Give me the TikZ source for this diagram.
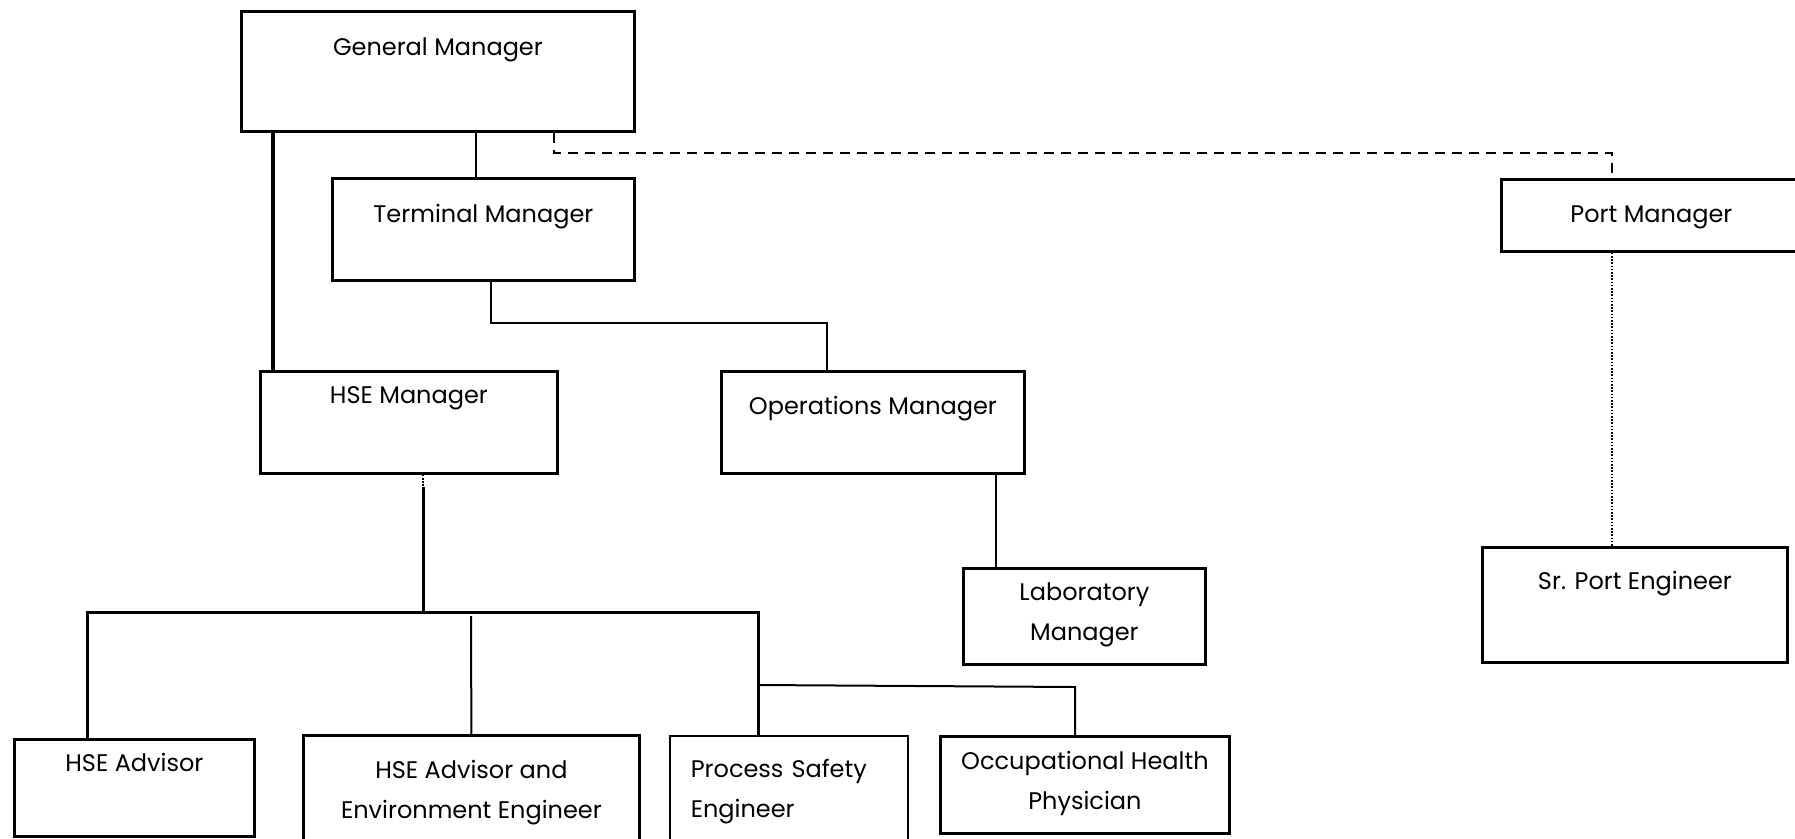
\documentclass[tikz,border=0pt]{standalone}
\usepackage{fontspec}
\setmainfont{Poppins}
\usetikzlibrary{positioning}

\tikzset{
	post/.style n args={3}{draw, line width=2.8pt, anchor=north west, inner sep=0pt,
		minimum width=#1pt, text height=#2pt, text depth=#3pt, align=center},
	link/.style={line width=2.6pt},
	chief/.style={line width=3.8pt},
	dashed link/.style={line width=2.8pt, dash pattern=on 10pt off 7pt},
	dotted link/.style={line width=1.6pt, dash pattern=on 1.6pt off 1.6pt},
}

\begin{document}
\begin{tikzpicture}[x=1pt, y=-1pt, font=\fontsize{24}{40}\selectfont]
	\useasboundingbox (0,0) rectangle (1795,838);

	\node[post={393}{44.5}{75.5}] (gm) at (240,10) {General Manager};
	\node[post={302}{44.5}{57.5}] (tm) at (331,177) {Terminal Manager};
	\node[post={300}{43}{29}] (pm) at (1500,178) {Port Manager};
	\node[post={297}{32.5}{69.5}] (hse) at (259,370) {HSE Manager};
	\node[post={303}{43}{59}] (om) at (720,370) {Operations Manager};
	\node[post={242}{72.5}{23.5}] (lm) at (962,567) {Laboratory\\Manager};
	\node[post={305}{42.5}{72.5}] (srpe) at (1481,546) {Sr. Port Engineer};
	\node[post={240}{32.5}{64.5}] (hsea) at (13,738) {HSE Advisor};
	\node[post={336}{83.5}{36.5}] (hseae) at (302,734) {HSE Advisor and\\Environment Engineer};
	\node[post={238}{42}{78}, line width=1.6pt, text width=196pt, inner xsep=21pt, align=left] (pse) at (669,735) {Process Safety\\Engineer};
	\node[post={289}{73}{24}] (ohp) at (939,735) {Occupational Health\\Physician};

	\coordinate (gmtm) at (476,0);
	\coordinate (gmhse) at (273,0);
	\coordinate (gmpm) at (554,153);
	\coordinate (pmse) at (1612,0);
	\coordinate (tmom) at (491,323);
	\coordinate (omx) at (827,0);
	\coordinate (omlm) at (996,0);
	\coordinate (trunktop) at (423,487);
	\coordinate (trunkdot) at (423,543);
	\coordinate (trunk) at (423,612);
	\coordinate (barl) at (87,612);
	\coordinate (barr) at (758,612);
	\coordinate (aedrop) at (471,616);
	\coordinate (ohpb) at (758,685);
	\coordinate (ohpc) at (1075,687);

	\draw[link] (gm.south -| gmtm) -- (tm.north -| gmtm);
	\draw[chief] (gm.south -| gmhse) -- (hse.north -| gmhse);
	\draw[dashed link] (gm.south -| gmpm) -- (gmpm) -| (pm.north -| pmse);
	\draw[dotted link] (pm.south -| pmse) -- (srpe.north -| pmse);
	\draw[link] (tm.south -| tmom) -- (tmom) -| (om.north -| omx);
	\draw[link] (om.south -| omlm) -- (lm.north -| omlm);

	\draw[dotted link] (hse.south -| trunk) -- (trunkdot);
	\draw[link, line width=3pt] (trunktop) -- (trunk);
	\draw[link, line width=3pt] (hsea.north -| barl) -- (barl) -- (barr) -- (pse.north -| barr);
	\draw[link, line width=2pt] (aedrop) -- (hseae.north);
	\draw[link, line width=2pt] (ohpb) -- (ohpc) -- (ohp.north -| ohpc);
\end{tikzpicture}
\end{document}
